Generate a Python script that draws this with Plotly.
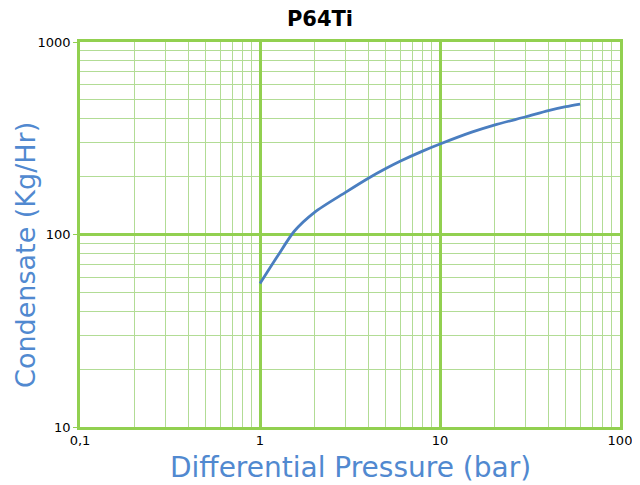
import plotly.graph_objects as go

pressure_bar = [1, 1.25, 1.55, 2, 3, 4, 5, 6, 8, 10, 15, 20, 30, 40, 50, 60]
condensate_kg_hr = [55.6, 77, 104, 130, 166, 196, 220, 240, 271, 295, 340, 370, 409, 440, 461, 476]

x_tickvals = [0.1, 1, 10, 100]
x_ticktext = ["0,1", "1", "10", "100"]
y_tickvals = [10, 100, 1000]
y_ticktext = ["10", "100", "1000"]

major = "#92D050"
minor = "#B2DC95"
blue = "#5189D0"
FONT = "DejaVu Sans"

fig = go.Figure()
fig.add_trace(go.Scatter(x=pressure_bar, y=condensate_kg_hr, mode="lines",
                         line=dict(color="#4A7EC0", width=2.8, shape="spline", smoothing=0.8),
                         showlegend=False))

fig.update_layout(
    width=632, height=477,
    margin=dict(l=72, r=20, t=34, b=58),
    paper_bgcolor="white", plot_bgcolor="white",
    font=dict(family=FONT, color="black"),
    title=dict(text="<b>P64Ti</b>", xref="container", x=312 / 632, xanchor="center",
               yref="container", y=1 - 3 / 477, yanchor="top", pad=dict(t=0, b=0),
               font=dict(size=21, color="black", family=FONT)),
    annotations=[
        dict(text="Differential Pressure (bar)", xref="paper", yref="paper",
             x=0.5, y=-0.104, xanchor="center", yanchor="middle", showarrow=False,
             font=dict(size=28, color=blue, family=FONT)),
        dict(text="Condensate (Kg/Hr)", xref="paper", yref="paper",
             x=-0.1, y=0.447, xanchor="center", yanchor="middle", showarrow=False,
             textangle=-90, font=dict(size=27, color=blue, family=FONT)),
    ],
)
fig.update_xaxes(
    type="log", range=[-1, 2], automargin=False,
    tickvals=x_tickvals, ticktext=x_ticktext,
    tickfont=dict(size=13, color="black", family=FONT),
    showgrid=True, gridcolor=major, gridwidth=2.5,
    showline=True, linecolor=major, linewidth=2.5, mirror=True,
    ticks="", zeroline=False,
    minor=dict(dtick="D1", showgrid=True, gridcolor=minor, gridwidth=1, ticks=""),
)
fig.update_yaxes(
    type="log", range=[1, 3], automargin=False,
    tickvals=y_tickvals, ticktext=y_ticktext,
    tickfont=dict(size=13, color="black", family=FONT),
    showgrid=True, gridcolor=major, gridwidth=2.5,
    showline=True, linecolor=major, linewidth=2.5, mirror=True,
    ticks="outside", ticklen=4, tickcolor=major, zeroline=False,
    minor=dict(dtick="D1", showgrid=True, gridcolor=minor, gridwidth=1, ticks=""),
)

fig.write_html("out.html")
